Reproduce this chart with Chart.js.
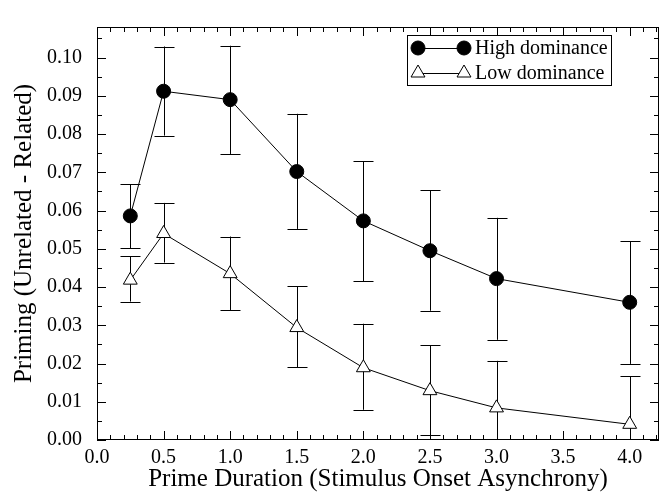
<!DOCTYPE html>
<html>
<head>
<meta charset="utf-8">
<script src="https://cdn.jsdelivr.net/npm/chart.js@4.4.0/dist/chart.umd.min.js"></script>
<style>
  html, body { margin: 0; padding: 0; background: #fff; }
  #wrap { width: 668px; height: 497px; }
</style>
</head>
<body>
<div id="wrap"><canvas id="myChart"></canvas></div>
<script>
const durations = [0.25, 0.5, 1.0, 1.5, 2.0, 2.5, 3.0, 4.0];

const highMean = [0.0586, 0.0912, 0.0890, 0.0702, 0.0573, 0.0495, 0.0422, 0.0360];
const highLower = [0.0501, 0.0796, 0.0748, 0.0552, 0.0415, 0.0338, 0.0262, 0.0199];
const highUpper = [0.0669, 0.1029, 0.1031, 0.0853, 0.0729, 0.0653, 0.0581, 0.0520];

const lowMean = [0.0418, 0.0540, 0.0435, 0.0294, 0.0189, 0.0129, 0.0084, 0.0041];
const lowLower = [0.0362, 0.0464, 0.0340, 0.0190, 0.0079, 0.0012, -0.0039, -0.0085];
const lowUpper = [0.0480, 0.0620, 0.0532, 0.0402, 0.0304, 0.0248, 0.0207, 0.0167];

const xTicks = [0.0, 0.5, 1.0, 1.5, 2.0, 2.5, 3.0, 3.5, 4.0];
const yTicks = [0.00, 0.01, 0.02, 0.03, 0.04, 0.05, 0.06, 0.07, 0.08, 0.09, 0.10];

const seriesNames = ['High dominance', 'Low dominance'];

const FONT = "'Liberation Serif', 'DejaVu Serif', serif";

const toPoints = (ys) => durations.map((x, i) => ({ x: x, y: ys[i] }));

// error bars, drawn under the markers
const errorBars = {
  id: 'errorBars',
  beforeDatasetsDraw(chart) {
    const { ctx, chartArea, scales: { x, y } } = chart;
    const sets = [[highLower, highUpper], [lowLower, lowUpper]];
    ctx.save();
    ctx.beginPath();
    ctx.rect(chartArea.left, chartArea.top, chartArea.right - chartArea.left, chartArea.bottom - chartArea.top);
    ctx.clip();
    ctx.strokeStyle = '#000';
    ctx.lineWidth = 1;
    sets.forEach(([lo, hi]) => {
      durations.forEach((d, i) => {
        const px = Math.round(x.getPixelForValue(d)) + 0.5;
        const y1 = y.getPixelForValue(lo[i]);
        const y2 = y.getPixelForValue(hi[i]);
        ctx.beginPath();
        ctx.moveTo(px, y1);
        ctx.lineTo(px, y2);
        ctx.moveTo(px - 10, Math.round(y1) + 0.5);
        ctx.lineTo(px + 10, Math.round(y1) + 0.5);
        ctx.moveTo(px - 10, Math.round(y2) + 0.5);
        ctx.lineTo(px + 10, Math.round(y2) + 0.5);
        ctx.stroke();
      });
    });
    ctx.restore();
  }
};

// frame with inward ticks on all four sides, plus legend box
const frame = {
  id: 'frame',
  afterDraw(chart) {
    const { ctx, chartArea: a, scales: { x, y } } = chart;
    ctx.save();
    ctx.strokeStyle = '#000';
    ctx.lineWidth = 1;
    ctx.strokeRect(a.left + 0.5, a.top + 0.5, a.right - a.left - 1, a.bottom - a.top - 1);

    ctx.beginPath();
    for (let v = 0; v <= x.max + 1e-9; v += 0.1) {
      const px = Math.round(x.getPixelForValue(v)) + 0.5;
      const major = Math.abs(v / 0.5 - Math.round(v / 0.5)) < 1e-6;
      const len = major ? 9 : 5;
      ctx.moveTo(px, a.bottom); ctx.lineTo(px, a.bottom - len);
      ctx.moveTo(px, a.top); ctx.lineTo(px, a.top + len);
    }
    for (let v = 0; v <= y.max + 1e-9; v += 0.005) {
      const py = Math.round(y.getPixelForValue(v)) + 0.5;
      const major = Math.abs(v / 0.01 - Math.round(v / 0.01)) < 1e-6;
      const len = major ? 9 : 5;
      ctx.moveTo(a.left, py); ctx.lineTo(a.left + len, py);
      ctx.moveTo(a.right, py); ctx.lineTo(a.right - len, py);
    }
    ctx.stroke();

    // legend
    const bx = 407, by = 35, bw = 204, bh = 50;
    ctx.fillStyle = '#fff';
    ctx.fillRect(bx, by, bw, bh);
    ctx.strokeRect(bx + 0.5, by + 0.5, bw, bh);
    chart.data.datasets.forEach((ds, i) => {
      const ry = by + 13 + i * 25;
      ctx.strokeStyle = '#000';
      ctx.beginPath();
      ctx.moveTo(418, ry + 0.5);
      ctx.lineTo(464, ry + 0.5);
      ctx.stroke();
      [418, 464].forEach((mx) => {
        ctx.fillStyle = ds.pointBackgroundColor;
        ctx.beginPath();
        if (ds.pointStyle === 'circle') {
          ctx.arc(mx, ry, ds.pointRadius, 0, Math.PI * 2);
        } else {
          const r = ds.pointRadius;
          ctx.moveTo(mx, ry - r);
          ctx.lineTo(mx + r * 0.87, ry + r * 0.5);
          ctx.lineTo(mx - r * 0.87, ry + r * 0.5);
          ctx.closePath();
        }
        ctx.fill();
        ctx.stroke();
      });
      ctx.fillStyle = '#000';
      ctx.font = '20px ' + FONT;
      ctx.textBaseline = 'middle';
      ctx.textAlign = 'left';
      ctx.fillText(ds.label, 475, ry + 1);
    });
    ctx.restore();
  }
};

new Chart(document.getElementById('myChart').getContext('2d'), {
  type: 'line',
  data: {
    datasets: [{
      label: seriesNames[0],
      data: toPoints(highMean),
      borderColor: '#000',
      borderWidth: 1,
      pointStyle: 'circle',
      pointRadius: 7,
      pointBackgroundColor: '#000',
      pointBorderColor: '#000',
      pointBorderWidth: 1
    }, {
      label: seriesNames[1],
      data: toPoints(lowMean),
      borderColor: '#000',
      borderWidth: 1,
      pointStyle: 'triangle',
      pointRadius: 8,
      pointBackgroundColor: '#fff',
      pointBorderColor: '#000',
      pointBorderWidth: 1
    }]
  },
  options: {
    responsive: true,
    maintainAspectRatio: false,
    animation: false,
    layout: { padding: { top: 5, right: 6, left: 0, bottom: 0 } },
    plugins: {
      legend: { display: false },
      tooltip: { enabled: false }
    },
    scales: {
      x: {
        type: 'linear',
        min: 0,
        max: 4.22,
        afterBuildTicks: (axis) => { axis.ticks = xTicks.map(v => ({ value: v })); },
        afterFit: (axis) => { axis.height = 57; },
        grid: { display: false, drawTicks: false },
        border: { display: false },
        ticks: {
          color: '#000',
          padding: 6,
          maxRotation: 0,
          autoSkip: false,
          font: { family: FONT, size: 20 },
          callback: (v) => Number(v).toFixed(1)
        },
        title: {
          display: true,
          text: 'Prime Duration (Stimulus Onset Asynchrony)',
          color: '#000',
          font: { family: FONT, size: 25 },
          padding: { top: 0, bottom: 3 }
        }
      },
      y: {
        min: 0,
        max: 0.108,
        afterBuildTicks: (axis) => { axis.ticks = yTicks.map(v => ({ value: v })); },
        afterFit: (axis) => { axis.width = 97; },
        grid: { display: false, drawTicks: false },
        border: { display: false },
        ticks: {
          color: '#000',
          padding: 15,
          autoSkip: false,
          font: { family: FONT, size: 20 },
          callback: (v) => Number(v).toFixed(2)
        },
        title: {
          display: true,
          text: 'Priming (Unrelated - Related)',
          color: '#000',
          font: { family: FONT, size: 25 },
          padding: { top: 9, bottom: 0 }
        }
      }
    }
  },
  plugins: [errorBars, frame]
});
</script>
</body>
</html>
